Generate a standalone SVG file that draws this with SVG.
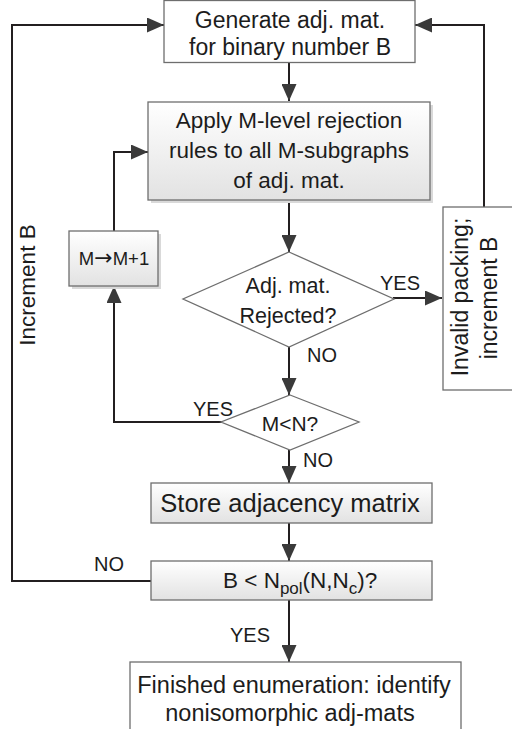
<svg xmlns="http://www.w3.org/2000/svg" width="512" height="729" viewBox="0 0 512 729">
<style>
.box{fill:#fff;stroke:#6e6e6e;stroke-width:1.3}
.gbox{fill:url(#g);stroke:#6e6e6e;stroke-width:1.3}
.sh{fill:#d9d9d9}
.t{font-family:"Liberation Sans",Arial,sans-serif;fill:#1c1c1c}
.m{text-anchor:middle}
.lb{font-size:20px}
.c{fill:none;stroke:#231f20;stroke-width:2}
</style>
<defs>
<linearGradient id="g" x1="0" y1="0" x2="0" y2="1">
<stop offset="0" stop-color="#ffffff"/>
<stop offset="1" stop-color="#e2e2e2"/>
</linearGradient>
<marker id="a" viewBox="0 0 17 15" markerWidth="17" markerHeight="15" refX="17" refY="7.5" orient="auto" markerUnits="userSpaceOnUse">
<path d="M0,0 L17,7.5 L0,15 z" fill="#3a3a3a"/>
</marker>
</defs>
<rect width="512" height="729" fill="#fff"/>

<g id="connectors">
<path class="c" d="M289,62 L289,101" marker-end="url(#a)"/>
<path class="c" d="M289,201 L289,252" marker-end="url(#a)"/>
<path class="c" d="M289,347 L289,395" marker-end="url(#a)"/>
<path class="c" d="M289,450 L289,483" marker-end="url(#a)"/>
<path class="c" d="M289,523 L289,561" marker-end="url(#a)"/>
<path class="c" d="M289,600 L289,662" marker-end="url(#a)"/>
<path class="c" d="M393,298 L442,298" marker-end="url(#a)"/>
<path class="c" d="M484,207 L484,25 L415,25" marker-end="url(#a)"/>
<path class="c" d="M222,422 L114,422 L114,286" marker-end="url(#a)"/>
<path class="c" d="M114,231 L114,152 L148,152" marker-end="url(#a)"/>
<path class="c" d="M151,581 L12,581 L12,25 L164,25" marker-end="url(#a)"/>
</g>

<g id="generate">
<rect class="box" x="164" y="0.5" width="251" height="62"/>
<text class="t m" x="290" y="28" font-size="23">Generate adj. mat.</text>
<text class="t m" x="290" y="55" font-size="23">for binary number B</text>
</g>

<g id="apply">
<rect class="sh" x="151" y="105" width="282" height="98"/>
<rect class="gbox" x="148" y="102" width="282" height="98"/>
<text class="t m" x="289" y="128" font-size="22.5">Apply M-level rejection</text>
<text class="t m" x="289" y="158" font-size="22.5">rules to all M-subgraphs</text>
<text class="t m" x="289" y="188" font-size="22.5">of adj. mat.</text>
</g>

<g id="rejected">
<polygon class="box" points="289,252 394,299 289,347 183,299"/>
<text class="t m" x="288" y="293" font-size="21.5">Adj. mat.</text>
<text class="t m" x="288" y="323" font-size="21.5">Rejected?</text>
</g>

<g id="invalid">
<rect class="box" x="443" y="207" width="80" height="183"/>
<text class="t m" transform="translate(468,297) rotate(-90)" font-size="23">Invalid packing;</text>
<text class="t m" transform="translate(497,298) rotate(-90)" font-size="23">increment B</text>
</g>

<g id="mplus">
<rect class="sh" x="72" y="234" width="89" height="55"/>
<rect class="gbox" x="69" y="231" width="89" height="55"/>
<text class="t m" x="114" y="265" font-size="18.5">M<tspan font-family="DejaVu Sans, sans-serif" font-size="22">→</tspan>M+1</text>
</g>

<g id="mltn">
<polygon class="box" points="290,395 359,422 290,450 221,422"/>
<text class="t m" x="290" y="431" font-size="21">M&lt;N?</text>
</g>

<g id="store">
<rect class="gbox" x="151" y="483" width="281" height="40"/>
<text class="t m" x="290" y="512" font-size="25.5">Store adjacency matrix</text>
</g>

<g id="bcheck">
<rect class="gbox" x="151" y="561" width="281" height="39"/>
<text class="t" x="223" y="588" font-size="22.5">B &lt; N<tspan font-size="17" dy="6">pol</tspan><tspan dy="-6">(N,N</tspan><tspan font-size="17" dy="6">c</tspan><tspan dy="-6">)?</tspan></text>
</g>

<g id="finished">
<rect class="box" x="130" y="662" width="331" height="80"/>
<text class="t m" x="294" y="693" font-size="23.5">Finished enumeration: identify</text>
<text class="t m" x="290" y="721" font-size="23.5">nonisomorphic adj-mats</text>
</g>

<g id="labels">
<text class="t m" x="35" y="285" font-size="22.5" transform="rotate(-90 35 285)">Increment B</text>
<text class="t m lb" x="400" y="290">YES</text>
<text class="t lb" x="307" y="362">NO</text>
<text class="t m lb" x="213" y="416">YES</text>
<text class="t lb" x="303" y="467">NO</text>
<text class="t m lb" x="109" y="571">NO</text>
<text class="t m lb" x="250" y="642">YES</text>
</g>
</svg>
